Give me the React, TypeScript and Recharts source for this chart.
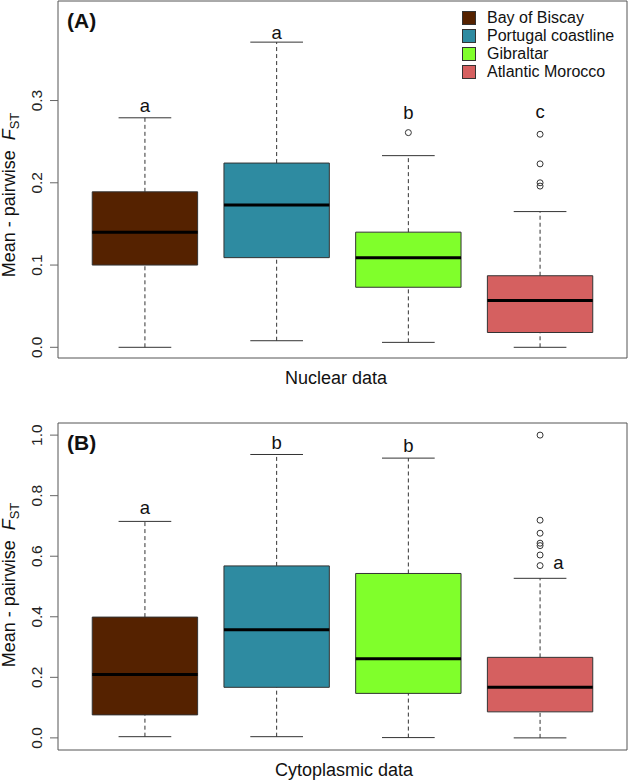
import React from 'react';
import { ComposedChart, XAxis, YAxis, Scatter, ReferenceArea, ReferenceLine, Legend } from 'recharts';

const regions = ['Bay of Biscay', 'Portugal coastline', 'Gibraltar', 'Atlantic Morocco'];
const colors = ['#552200', '#2e8ba1', '#80ff2b', '#d56060'];

// nuclear data: whiskers, quartiles, medians
const nucLow = [0.0, 0.008, 0.006, 0.0];
const nucQ1 = [0.1, 0.109, 0.073, 0.018];
const nucMed = [0.14, 0.173, 0.109, 0.057];
const nucQ3 = [0.189, 0.224, 0.14, 0.087];
const nucHigh = [0.279, 0.371, 0.233, 0.165];
const nucOutliers = [[], [], [0.261], [0.259, 0.223, 0.2, 0.196]];
const nucLetters = ['a', 'a', 'b', 'c'];
const nucLetterY = [0.294, 0.383, 0.286, 0.287];
const nucLetterDx = [0, 0, 0, 0];
const nucTicks = [0, 0.1, 0.2, 0.3];

// cytoplasmic data
const cytLow = [0.004, 0.004, 0.001, 0.0];
const cytQ1 = [0.076, 0.167, 0.147, 0.086];
const cytMed = [0.209, 0.357, 0.261, 0.167];
const cytQ3 = [0.399, 0.568, 0.543, 0.266];
const cytHigh = [0.715, 0.936, 0.924, 0.527];
const cytOutliers = [[], [], [], [1.0, 0.719, 0.676, 0.643, 0.635, 0.604, 0.569]];
const cytLetters = ['a', 'b', 'b', 'a'];
const cytLetterY = [0.76, 0.975, 0.967, 0.58];
const cytLetterDx = [0, 0, 0, 0.14];
const cytTicks = [0, 0.2, 0.4, 0.6, 0.8, 1.0];

const FONT = '"Liberation Sans", Arial, Helvetica, sans-serif';
const X_DOMAIN = [0.34, 4.66];
const HALF_BOX = 0.4;
const HALF_CAP = 0.2;

function LegendBox() {
  return (
    <div style={{ fontFamily: FONT, fontSize: 16, color: '#111' }}>
      {regions.map((r, i) => (
        <div key={r} style={{ display: 'flex', alignItems: 'center', height: 18 }}>
          <span style={{ width: 14, height: 14, boxSizing: 'border-box', border: '1px solid #333', background: colors[i], marginRight: 11 }} />
          <span style={{ lineHeight: '18px', whiteSpace: 'nowrap' }}>{r}</span>
        </div>
      ))}
    </div>
  );
}

function YTick(props: any) {
  const { x, y, payload } = props;
  const tx = x - 6;
  return (
    <text x={tx} y={y} transform={`rotate(-90 ${tx} ${y})`} textAnchor="middle" fontSize={15.5} fontFamily={FONT} fill="#222">
      {Number(payload.value).toFixed(1)}
    </text>
  );
}

function Panel(props: any) {
  const { low, q1, med, q3, high, outliers, letters, letterY, letterDx, ticks, domain, height, top, xLabel, xLabelX, tag, legend } = props;
  const outlierPts = outliers.flatMap((vals: number[], i: number) => vals.map((v) => ({ x: i + 1, y: v })));
  const letterPts = letters.map((t: string, i: number) => ({ x: i + 1 + letterDx[i], y: letterY[i], t }));

  const marks = regions.map((r, i) => {
    const c = i + 1;
    return [
      <ReferenceLine key={`wl${i}`} segment={[{ x: c, y: low[i] }, { x: c, y: q1[i] }]} stroke="#333" strokeDasharray="4 3" ifOverflow="visible" />,
      <ReferenceLine key={`wh${i}`} segment={[{ x: c, y: q3[i] }, { x: c, y: high[i] }]} stroke="#333" strokeDasharray="4 3" ifOverflow="visible" />,
      <ReferenceLine key={`cl${i}`} segment={[{ x: c - HALF_CAP, y: low[i] }, { x: c + HALF_CAP, y: low[i] }]} stroke="#333" ifOverflow="visible" />,
      <ReferenceLine key={`ch${i}`} segment={[{ x: c - HALF_CAP, y: high[i] }, { x: c + HALF_CAP, y: high[i] }]} stroke="#333" ifOverflow="visible" />,
      <ReferenceArea key={`b${i}`} x1={c - HALF_BOX} x2={c + HALF_BOX} y1={q1[i]} y2={q3[i]} fill={colors[i]} fillOpacity={1} stroke="#333" strokeWidth={1} ifOverflow="visible" />,
      <ReferenceLine key={`m${i}`} segment={[{ x: c - HALF_BOX, y: med[i] }, { x: c + HALF_BOX, y: med[i] }]} stroke="#000" strokeWidth={3} ifOverflow="visible" />,
    ];
  }).flat();

  return (
    <ComposedChart width={628} height={height} margin={{ top, right: 1, bottom: 0, left: 0 }}>
      <XAxis
        type="number"
        dataKey="x"
        domain={X_DOMAIN}
        allowDataOverflow
        tick={false}
        tickLine={false}
        axisLine={false}
        height={height === 390 ? 32 : 31}
        label={{
          content: (p: any) => (
            <text x={xLabelX} y={p.viewBox.y + 26} textAnchor="middle" fontSize={18} fontFamily={FONT} fill="#111">
              {xLabel}
            </text>
          ),
        }}
      />
      <YAxis
        type="number"
        dataKey="y"
        domain={domain}
        allowDataOverflow
        ticks={ticks}
        width={58}
        tickSize={8}
        axisLine={false}
        tickLine={{ stroke: '#666' }}
        tick={<YTick />}
        label={{
          content: () => (
            <text x={15} y={195} transform={`rotate(-90 15 195)`} textAnchor="middle" fontSize={18} fontFamily={FONT} fill="#111">
              Mean - pairwise
              <tspan dx={10} fontStyle="italic">F</tspan>
              <tspan fontSize={13} dy={4}>ST</tspan>
            </text>
          ),
        }}
      />
      {marks}
      <Scatter
        data={outlierPts}
        dataKey="y"
        isAnimationActive={false}
        shape={(p: any) => <circle cx={p.cx} cy={p.cy} r={3} fill="none" stroke="#333" strokeWidth={1} />}
      />
      <Scatter
        data={letterPts}
        dataKey="y"
        isAnimationActive={false}
        shape={(p: any) => (
          <text x={p.cx} y={p.cy} textAnchor="middle" dominantBaseline="central" fontSize={18.5} fontFamily={FONT} fill="#111">
            {p.payload.t}
          </text>
        )}
      />
      <ReferenceArea
        x1={X_DOMAIN[0]}
        x2={X_DOMAIN[1]}
        y1={domain[0]}
        y2={domain[1]}
        fill="none"
        stroke="#555"
        strokeWidth={1}
        ifOverflow="visible"
        label={{
          content: (p: any) => (
            <text x={p.viewBox.x + 9} y={p.viewBox.y + 27} fontSize={21} fontWeight="bold" fontFamily={FONT} fill="#111">
              {tag}
            </text>
          ),
        }}
      />
      {legend ? (
        <Legend
          layout="horizontal"
          verticalAlign="middle"
          align="center"
          wrapperStyle={{ top: 9, left: 462, width: 'auto', height: 'auto' }}
          content={() => <LegendBox />}
        />
      ) : null}
    </ComposedChart>
  );
}

export default function App() {
  return (
    <div style={{ position: 'absolute', left: 0, top: 0, width: 628, height: 781, background: '#fff', fontFamily: FONT }}>
      <Panel
        low={nucLow} q1={nucQ1} med={nucMed} q3={nucQ3} high={nucHigh}
        outliers={nucOutliers} letters={nucLetters} letterY={nucLetterY} letterDx={nucLetterDx}
        ticks={nucTicks} domain={[-0.013, 0.421]} height={390} top={1}
        xLabel="Nuclear data" xLabelX={336} tag="(A)" legend
      />
      <Panel
        low={cytLow} q1={cytQ1} med={cytMed} q3={cytQ3} high={cytHigh}
        outliers={cytOutliers} letters={cytLetters} letterY={cytLetterY} letterDx={cytLetterDx}
        ticks={cytTicks} domain={[-0.04, 1.04]} height={391} top={33}
        xLabel="Cytoplasmic data" xLabelX={344} tag="(B)"
      />
    </div>
  );
}
